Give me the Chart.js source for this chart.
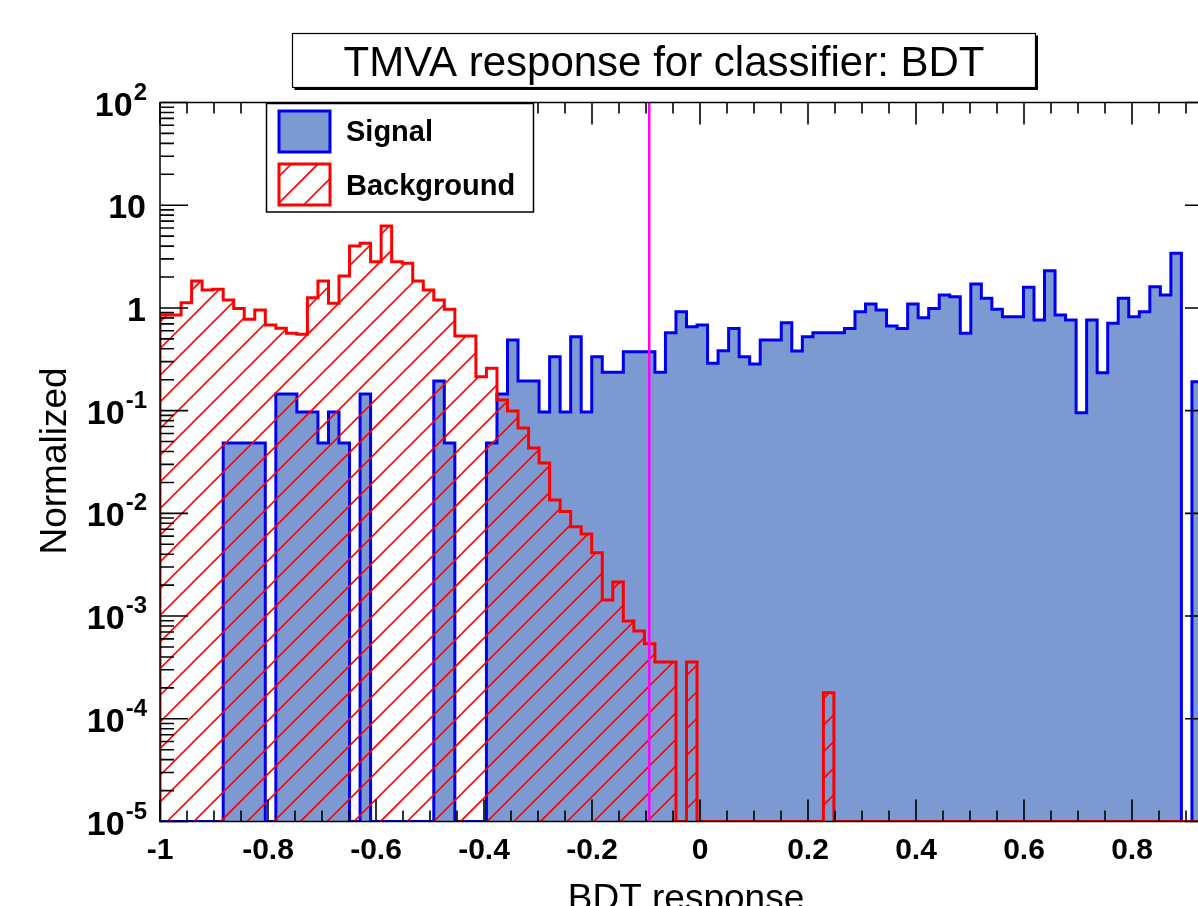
<!DOCTYPE html>
<html>
<head>
<meta charset="utf-8">
<script src="https://cdn.jsdelivr.net/npm/chart.js@4.4.1/dist/chart.umd.min.js"></script>
<style>
  html, body { margin: 0; padding: 0; background: #fff; overflow: hidden; width: 1198px; height: 906px; }
  #wrap { position: absolute; left: 0; top: 0; width: 1240px; height: 906px; }
</style>
</head>
<body>
<div id="wrap"><canvas id="c" width="1240" height="906"></canvas></div>
<script>
// Histogram binning of the BDT response
const X_MIN = -1, X_MAX = 0.95, N_BINS = 100;
const Y_MIN = 1e-5, Y_MAX = 1e2;

// Normalized signal response per bin
const signal = [
  0, 0, 0, 0, 0, 0, 0.0485, 0.0485, 0.0485, 0.0485,
  0, 0.1455, 0.1455, 0.097, 0.097, 0.0485, 0.097, 0.0485, 0, 0.1455,
  0, 0, 0, 0, 0, 0, 0.194, 0.0485, 0, 0,
  0, 0.0485, 0.1455, 0.487, 0.194, 0.194, 0.097, 0.335, 0.097, 0.525,
  0.097, 0.335, 0.236, 0.236, 0.375, 0.375, 0.375, 0.236, 0.573, 0.918,
  0.656, 0.681, 0.289, 0.383, 0.63, 0.335, 0.284, 0.487, 0.487, 0.718,
  0.38, 0.525, 0.573, 0.573, 0.573, 0.63, 0.918, 1.09, 0.954, 0.667,
  0.63, 1.09, 0.803, 0.99, 1.336, 1.285, 0.566, 1.709, 1.24, 0.969,
  0.821, 0.821, 1.587, 0.762, 2.30, 0.853, 0.762, 0.0956, 0.762, 0.234,
  0.708, 1.24, 0.821, 0.918, 1.608, 1.336, 3.40, 0, 0.191, 0
];

// Normalized background response per bin
const background = [
  0.853, 0.853, 1.124, 1.827, 1.493, 1.517, 1.194, 0.99, 0.774, 0.954,
  0.681, 0.633, 0.566, 0.553, 1.257, 1.827, 1.109, 2.045, 4.006, 4.256,
  2.818, 6.27, 2.818, 2.718, 1.827, 1.493, 1.194, 0.969, 0.532, 0.532,
  0.214, 0.258, 0.127, 0.0991, 0.0677, 0.0433, 0.0309, 0.0135, 0.0104, 0.00741,
  0.00629, 0.00413, 0.00143, 0.00215, 0.000895, 0.000716, 0.000537, 0.000358, 0.000358, 0,
  0.000358, 0, 0, 0, 0, 0, 0, 0, 0, 0,
  0, 0, 0, 0.000179, 0, 0, 0, 0, 0, 0,
  0, 0, 0, 0, 0, 0, 0, 0, 0, 0,
  0, 0, 0, 0, 0, 0, 0, 0, 0, 0,
  0, 0, 0, 0, 0, 0, 0, 0, 0, 0
];

const xTickValues = [-1, -0.8, -0.6, -0.4, -0.2, 0, 0.2, 0.4, 0.6, 0.8];
const xTickLabels = ['-1', '-0.8', '-0.6', '-0.4', '-0.2', '0', '0.2', '0.4', '0.6', '0.8'];
const yTickValues = [1e2, 10, 1, 0.1, 0.01, 1e-3, 1e-4, 1e-5];
const yTickBase = ['10', '10', '1', '10', '10', '10', '10', '10'];
const yTickExp = ['2', '', '', '-1', '-2', '-3', '-4', '-5'];
const cutValue = -0.094;

const titleText = 'TMVA response for classifier: BDT';
const xTitle = 'BDT response';
const yTitle = 'Normalized';
const legendLabels = ['Signal', 'Background'];

const FONT = '"Liberation Sans", Arial, Helvetica, sans-serif';
const SIG_FILL = '#7d99d1', SIG_LINE = '#0000ee', BKG_LINE = '#ff0000', CUT_LINE = '#ff00ff';

// Bin edges and step outlines (empty bins sit on the lower edge of the log axis)
const edges = Array.from({ length: N_BINS + 1 }, (_, k) => X_MIN + k * (X_MAX - X_MIN) / N_BINS);
function stepPoints(values) {
  const pts = [{ x: edges[0], y: Y_MIN }];
  values.forEach((v, k) => pts.push({ x: edges[k], y: Math.max(v, Y_MIN) }));
  pts.push({ x: edges[N_BINS], y: Math.max(values[N_BINS - 1], Y_MIN) });
  pts.push({ x: edges[N_BINS], y: Y_MIN });
  return pts;
}

// 45 degree red hatching for the background fill
function makeHatch(ctx) {
  const P = 80, step = 80 / 3, c = 2;
  const cv = document.createElement('canvas');
  cv.width = P; cv.height = P;
  const g = cv.getContext('2d');
  g.strokeStyle = BKG_LINE;
  g.lineWidth = 1.6;
  g.beginPath();
  for (let k = -1; k <= 7; k++) {
    const s = c + k * step;
    g.moveTo(s + 10, -10);
    g.lineTo(s - P - 10, P + 10);
  }
  g.stroke();
  return ctx.createPattern(cv, 'repeat');
}

const canvas = document.getElementById('c');
const ctx0 = canvas.getContext('2d');
const hatch = makeHatch(ctx0);

// Frame, inward ticks, log labels, titles and legend
const decor = {
  id: 'decor',
  beforeDraw(chart) {
    const { ctx } = chart;
    ctx.save();
    ctx.fillStyle = '#fff';
    ctx.fillRect(0, 0, chart.width, chart.height);
    ctx.restore();
  },
  afterDatasetsDraw(chart) {
    const { ctx, chartArea: a, scales: { x, y } } = chart;
    ctx.save();
    ctx.strokeStyle = '#000';
    ctx.lineWidth = 1.6;
    ctx.beginPath();
    for (let i = 0; i < 60; i++) {
      const v = X_MIN + 0.05 * i;
      if (v > X_MAX + 1e-9) break;
      const px = x.getPixelForValue(v);
      const len = (i % 4 === 0) ? 22 : 11;
      ctx.moveTo(px, a.bottom); ctx.lineTo(px, a.bottom - len);
      ctx.moveTo(px, a.top); ctx.lineTo(px, a.top + len);
    }
    for (let e = -5; e <= 2; e++) {
      for (let m = 1; m <= 9; m++) {
        const v = m * Math.pow(10, e);
        if (v > Y_MAX * 1.0001) break;
        const py = y.getPixelForValue(v);
        const len = (m === 1) ? 28 : 14;
        ctx.moveTo(a.left, py); ctx.lineTo(a.left + len, py);
        ctx.moveTo(a.right, py); ctx.lineTo(a.right - len, py);
      }
    }
    ctx.stroke();
    ctx.lineWidth = 1.5;
    ctx.strokeRect(a.left, a.top, a.right - a.left, a.bottom - a.top);

    // y tick labels with exponents
    ctx.fillStyle = '#000';
    ctx.textBaseline = 'alphabetic';
    ctx.textAlign = 'right';
    yTickValues.forEach((v, i) => {
      const py = y.getPixelForValue(v);
      const baseY = py + 13;
      let right = 146;
      if (yTickExp[i]) {
        ctx.font = 'bold 24px ' + FONT;
        ctx.fillText(yTickExp[i], 147, baseY - 16);
        right = 147 - ctx.measureText(yTickExp[i]).width - 1;
      }
      ctx.font = 'bold 34px ' + FONT;
      ctx.fillText(yTickBase[i], right, baseY);
    });

    // axis titles
    ctx.font = '37px ' + FONT;
    ctx.textAlign = 'center';
    ctx.fillText(xTitle, 686, 910);
    ctx.save();
    ctx.translate(66, 461);
    ctx.rotate(-Math.PI / 2);
    ctx.fillText(yTitle, 0, 0);
    ctx.restore();

    // title box with shadow
    const tb = { l: 292.5, t: 33.5, r: 1035.5, b: 87.5 };
    ctx.fillStyle = '#fff';
    ctx.fillRect(tb.l, tb.t, tb.r - tb.l, tb.b - tb.t);
    ctx.strokeStyle = '#000';
    ctx.lineWidth = 1.2;
    ctx.strokeRect(tb.l, tb.t, tb.r - tb.l, tb.b - tb.t);
    ctx.lineWidth = 2;
    ctx.beginPath();
    ctx.moveTo(tb.l + 2, tb.b + 1.5); ctx.lineTo(tb.r + 1.5, tb.b + 1.5); ctx.lineTo(tb.r + 1.5, tb.t + 2);
    ctx.stroke();
    ctx.fillStyle = '#000';
    ctx.font = '42px ' + FONT;
    ctx.textAlign = 'center';
    ctx.fillText(titleText, 664, 76);

    // legend
    const lg = { l: 266.5, t: 103.5, r: 533.5, b: 212 };
    ctx.fillStyle = '#fff';
    ctx.fillRect(lg.l, lg.t, lg.r - lg.l, lg.b - lg.t);
    ctx.strokeStyle = '#000';
    ctx.lineWidth = 1.5;
    ctx.strokeRect(lg.l, lg.t, lg.r - lg.l, lg.b - lg.t);
    ctx.lineWidth = 3;
    ctx.fillStyle = SIG_FILL;
    ctx.fillRect(279, 111, 51, 41);
    ctx.strokeStyle = SIG_LINE;
    ctx.strokeRect(279, 111, 51, 41);
    ctx.fillStyle = hatch;
    ctx.fillRect(279, 164, 51, 41);
    ctx.strokeStyle = BKG_LINE;
    ctx.strokeRect(279, 164, 51, 41);
    ctx.fillStyle = '#000';
    ctx.font = 'bold 29px ' + FONT;
    ctx.textAlign = 'left';
    ctx.fillText(legendLabels[0], 346, 141);
    ctx.fillText(legendLabels[1], 346, 195);
    ctx.restore();
  }
};

new Chart(canvas, {
  type: 'line',
  data: {
    datasets: [
      {
        label: legendLabels[0],
        data: stepPoints(signal),
        stepped: true,
        borderColor: SIG_LINE,
        borderWidth: 3,
        backgroundColor: SIG_FILL,
        fill: 'start',
        pointRadius: 0,
        order: 2
      },
      {
        label: legendLabels[1],
        data: stepPoints(background),
        stepped: true,
        borderColor: BKG_LINE,
        borderWidth: 3,
        backgroundColor: hatch,
        fill: 'start',
        pointRadius: 0,
        order: 1
      },
      {
        label: 'cut',
        data: [{ x: cutValue, y: Y_MIN }, { x: cutValue, y: Y_MAX }],
        borderColor: CUT_LINE,
        borderWidth: 2.5,
        fill: false,
        pointRadius: 0,
        order: 0
      }
    ]
  },
  options: {
    responsive: false,
    devicePixelRatio: 1,
    animation: false,
    events: [],
    layout: { padding: { left: 0, top: 102.5, right: 27, bottom: 0 } },
    plugins: { legend: { display: false }, tooltip: { enabled: false }, title: { display: false } },
    scales: {
      x: {
        type: 'linear',
        min: X_MIN,
        max: X_MAX,
        grid: { display: false, drawTicks: false },
        border: { display: false },
        afterBuildTicks: (s) => { s.ticks = xTickValues.map(v => ({ value: v })); },
        afterFit: (s) => { s.height = 84.5; },
        ticks: {
          autoSkip: false,
          maxRotation: 0,
          includeBounds: false,
          padding: 11,
          color: '#000',
          font: { family: FONT, size: 30, weight: 'bold' },
          callback: (v, i) => xTickLabels[i]
        }
      },
      y: {
        type: 'logarithmic',
        min: Y_MIN,
        max: Y_MAX,
        grid: { display: false, drawTicks: false },
        border: { display: false },
        ticks: { display: false },
        afterFit: (s) => { s.width = 160; }
      }
    }
  },
  plugins: [decor]
});
</script>
</body>
</html>
